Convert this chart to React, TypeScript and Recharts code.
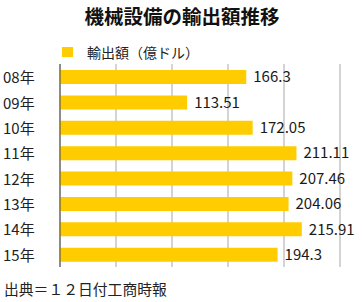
import { BarChart, Bar, XAxis, YAxis, CartesianGrid, LabelList } from "recharts"

const years = ["08年", "09年", "10年", "11年", "12年", "13年", "14年", "15年"]
const exportValues = [166.3, 113.51, 172.05, 211.11, 207.46, 204.06, 215.91, 194.3]
const xTicks = [0, 50, 100, 150, 200, 250]

const FONT = '"Noto Sans CJK JP", "Noto Sans", sans-serif'
const BAR_COLOR = "#FFCC00"

const data = years.map((year, i) => ({ year, value: exportValues[i] }))

// year labels sit flush left in the reference
const YearTick = (props: any) => {
  const { y, payload } = props
  return (
    <text x={3} y={y} dominantBaseline="central" fontSize={15} fill="#222" fontFamily={FONT}>
      {payload.value}
    </text>
  )
}

export default function App() {
  return (
    <div style={{ position: "relative", width: 364, height: 302, background: "#fff", fontFamily: FONT }}>
      <style>{`body{margin:0}`}</style>
      <div
        style={{
          position: "absolute",
          top: 3,
          left: 0,
          width: 364,
          textAlign: "center",
          fontSize: 19.5,
          fontWeight: "bold",
          color: "#111",
          lineHeight: "26px",
        }}
      >
        機械設備の輸出額推移
      </div>
      <div style={{ position: "absolute", top: 47, left: 62, width: 11, height: 10, background: BAR_COLOR }} />
      <div style={{ position: "absolute", top: 42, left: 87, fontSize: 14, color: "#222", lineHeight: "20px" }}>
        輸出額（億ドル）
      </div>
      <BarChart
        width={364}
        height={302}
        data={data}
        layout="vertical"
        margin={{ top: 64, right: 24, bottom: 35, left: 0 }}
        barCategoryGap={0}
      >
        <CartesianGrid horizontal={false} stroke="#a8a8a8" />
        <XAxis type="number" domain={[0, 250]} ticks={xTicks} hide />
        <YAxis
          type="category"
          dataKey="year"
          width={60}
          interval={0}
          axisLine={{ stroke: "#444", strokeWidth: 1 }}
          tickLine={false}
          tick={<YearTick />}
        />
        <Bar dataKey="value" fill={BAR_COLOR} barSize={14} isAnimationActive={false}>
          <LabelList
            dataKey="value"
            position="right"
            offset={7}
            fontSize={15}
            fill="#1a1a1a"
            fontFamily={FONT}
          />
        </Bar>
      </BarChart>
      <div style={{ position: "absolute", top: 279, left: 4, fontSize: 14.8, color: "#222", lineHeight: "20px" }}>
        出典＝１２日付工商時報
      </div>
    </div>
  )
}
